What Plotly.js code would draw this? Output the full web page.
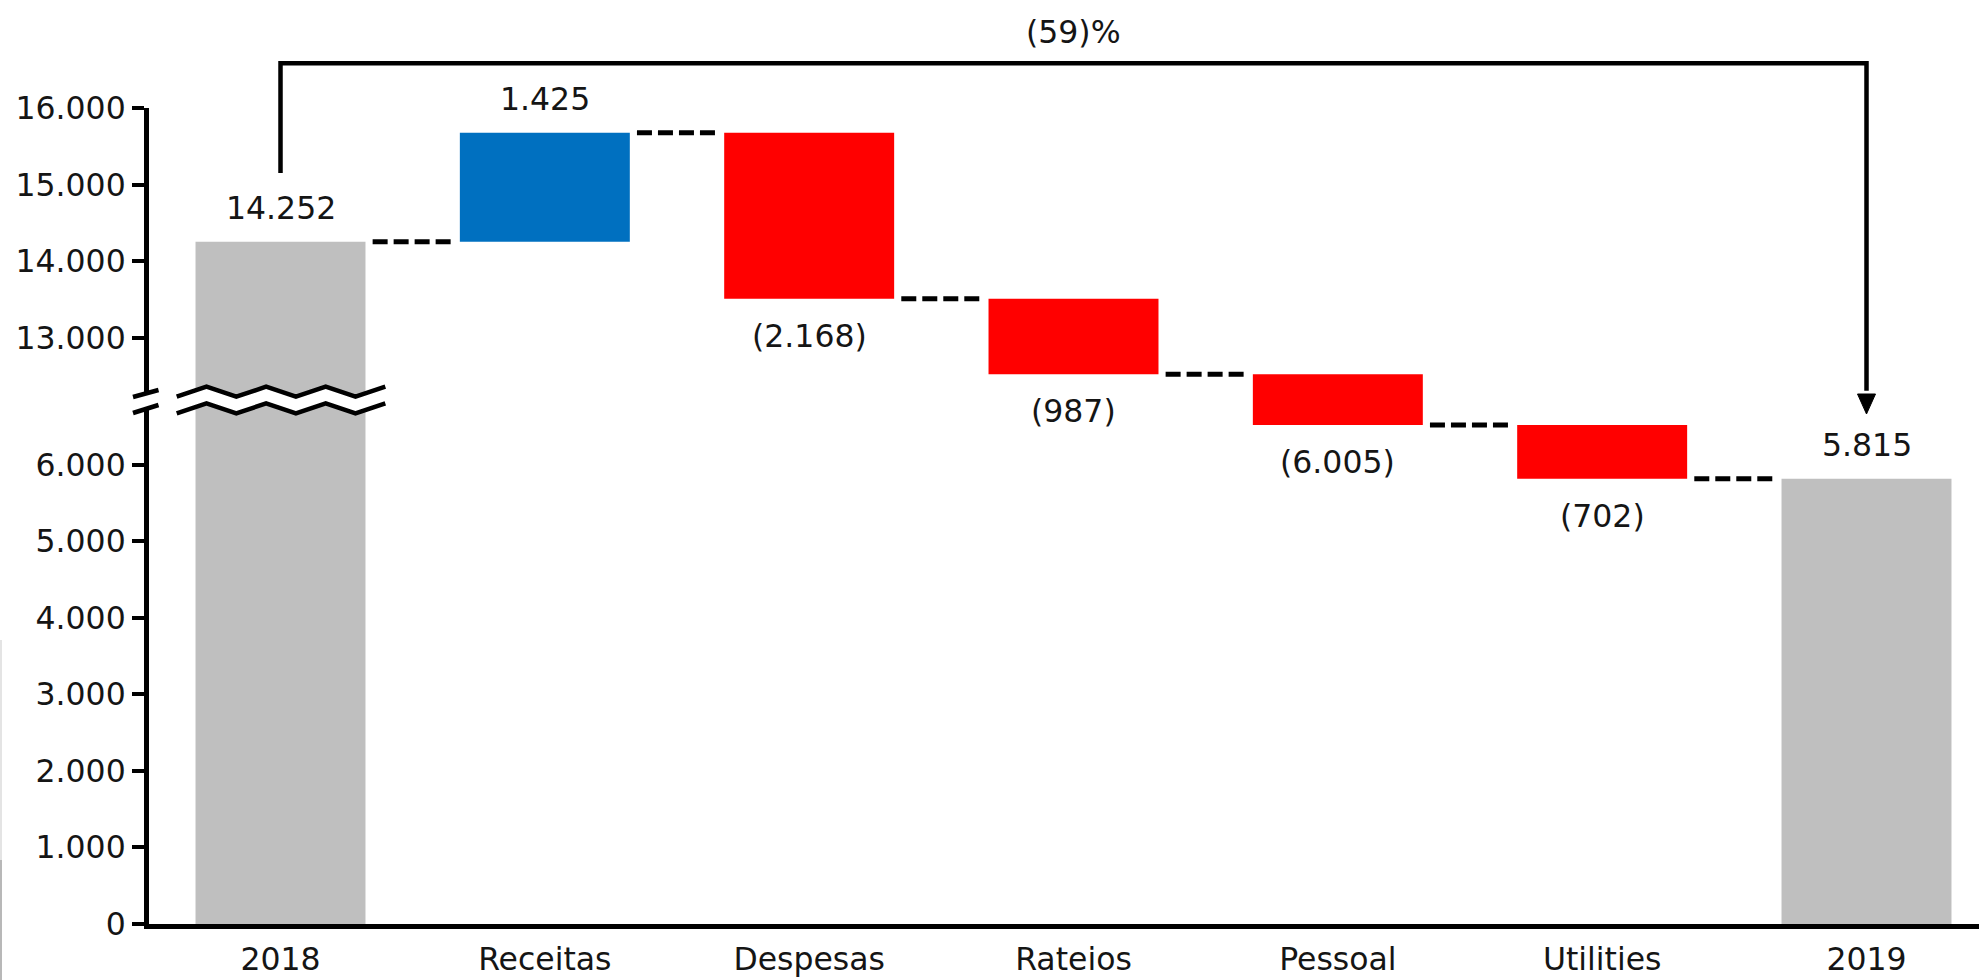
<!DOCTYPE html>
<html><head><meta charset="utf-8">
<script src="https://cdn.plot.ly/plotly-3.0.1.min.js"></script>
<style>html,body{margin:0;padding:0;background:#fff;overflow:hidden} #chart{width:1979px;height:980px;}</style>
</head><body><div id="chart"></div>
<script>
// ---------------- data ----------------
const categories = ['2018', 'Receitas', 'Despesas', 'Rateios', 'Pessoal', 'Utilities', '2019'];
const values = [14252, 1425, -2168, -987, -6005, -702, 5815];
const measures = ['total', 'relative', 'relative', 'relative', 'relative', 'relative', 'total'];
const tickValues = [0, 1000, 2000, 3000, 4000, 5000, 6000, 13000, 14000, 15000, 16000];
const tickLabels = ['0', '1.000', '2.000', '3.000', '4.000', '5.000', '6.000', '13.000', '14.000', '15.000', '16.000'];

// ---------------- style ----------------
const colorTotal = '#BFBFBF', colorUp = '#0070C0', colorDown = '#FF0000';
const FONT = '"DejaVu Sans", Verdana, sans-serif';
const FS = 31.5, TXT = '#151515';
const W = 1979, H = 980, ML = 149, MR = 0, MT = 108, MB = 56;
const PW = W - ML - MR, PH = H - MT - MB;
const XR = [-0.4975, 6.4256];
const YMAX = 16000;
const BAR_W = 0.643;

// broken axis: values above the break are shifted down
const BREAK_AT = 9000, BREAK_OFFSET = 5345;
const tr = v => (v > BREAK_AT ? v - BREAK_OFFSET : v);
const fmt = v => String(Math.abs(v)).replace(/\B(?=(\d{3})+(?!\d))/g, '.');

// ---------------- waterfall geometry ----------------
let run = 0;
const bases = [], heights = [], colors = [], ends = [], labels = [], above = [];
values.forEach((v, i) => {
  let lo, hi;
  if (measures[i] === 'total') { lo = 0; hi = v; run = v; colors.push(colorTotal); above.push(true); labels.push(fmt(v)); }
  else {
    const prev = run; run = prev + v;
    lo = Math.min(prev, run); hi = Math.max(prev, run);
    colors.push(v >= 0 ? colorUp : colorDown);
    above.push(v >= 0);
    labels.push(v >= 0 ? fmt(v) : '(' + fmt(v) + ')');
  }
  ends.push(run);
  bases.push(tr(lo));
  heights.push(tr(hi) - tr(lo));
});

const trace = {
  type: 'bar', x: categories, y: heights, base: bases, width: BAR_W,
  marker: {color: colors, line: {width: 0}}, hoverinfo: 'none', showlegend: false
};

// helpers for decoration in paper space
const catPaper = i => (i - XR[0]) / (XR[1] - XR[0]);
const pxX = px => (px - ML) / PW;
const pxY = py => (H - MB - py) / PH;

const shapes = [];
// connectors
const inset = 0.027;
for (let i = 0; i < categories.length - 1; i++) {
  shapes.push({type: 'line', xref: 'x', yref: 'y', x0: i + BAR_W / 2 + inset, x1: i + 1 - BAR_W / 2 - inset,
    y0: tr(ends[i]), y1: tr(ends[i]), line: {color: '#000', width: 5, dash: '15px,6px'}, layer: 'above'});
}

// axis break marks
const zz = (x0, yTop, yBot, n, dy) => {
  const pts = [];
  for (let k = 0; k <= n; k++) pts.push([x0 + k * 29.8, (k % 2 === 0 ? yBot : yTop) + dy]);
  return pts;
};
const upper = zz(176.7, 386.7, 396.7, 7, 0);
const lower = zz(176.7, 386.7, 396.7, 7, 16.7);
const P = p => pxX(p[0]).toFixed(5) + ',' + pxY(p[1]).toFixed(5);
let band = 'M ' + upper.map(P).join(' L ') + ' L ' + lower.slice().reverse().map(P).join(' L ') + ' Z';
shapes.push({type: 'path', xref: 'paper', yref: 'paper', path: band, fillcolor: '#fff', line: {width: 0}, layer: 'above'});
shapes.push({type: 'path', xref: 'paper', yref: 'paper', path: 'M ' + upper.map(P).join(' L '), line: {color: '#000', width: 4.5}, layer: 'above'});
shapes.push({type: 'path', xref: 'paper', yref: 'paper', path: 'M ' + lower.map(P).join(' L '), line: {color: '#000', width: 4.5}, layer: 'above'});
shapes.push({type: 'rect', xref: 'paper', yref: 'paper', x0: pxX(138), x1: pxX(156), y0: pxY(410), y1: pxY(392), fillcolor: '#fff', line: {width: 0}, layer: 'above'});
shapes.push({type: 'line', xref: 'paper', yref: 'paper', x0: pxX(133), y0: pxY(397), x1: pxX(158.5), y1: pxY(390), line: {color: '#000', width: 4.5}, layer: 'above'});
shapes.push({type: 'line', xref: 'paper', yref: 'paper', x0: pxX(133), y0: pxY(413), x1: pxX(158.5), y1: pxY(405), line: {color: '#000', width: 4.5}, layer: 'above'});

// bracket with arrow (first -> last)
const n = categories.length - 1;
const yBr = pxY(63.3), yStart = pxY(173), yTip = pxY(414), yHead = pxY(394);
const bx0 = catPaper(0), bx1 = catPaper(n);
shapes.push({type: 'path', xref: 'paper', yref: 'paper',
  path: `M ${bx0},${yStart} L ${bx0},${yBr} L ${bx1},${yBr} L ${bx1},${yHead + 0.004}`,
  line: {color: '#000', width: 4.5}, layer: 'above'});
const hw = 9 / PW;
shapes.push({type: 'path', xref: 'paper', yref: 'paper',
  path: `M ${bx1 - hw},${yHead} L ${bx1 + hw},${yHead} L ${bx1},${yTip} Z`,
  fillcolor: '#000', line: {color: '#000', width: 1}, layer: 'above'});

// faint edge line at far left (scan artefact)
shapes.push({type: 'line', xref: 'paper', yref: 'paper', x0: pxX(1), x1: pxX(1), y0: pxY(860), y1: pxY(640),
  line: {color: '#e4e4e4', width: 2}, layer: 'above'});
shapes.push({type: 'line', xref: 'paper', yref: 'paper', x0: pxX(1), x1: pxX(1), y0: pxY(980), y1: pxY(860),
  line: {color: '#b8b8b8', width: 2}, layer: 'above'});

// value labels (x given as category index so '2018'/'2019' are not read as numbers)
const annotations = categories.map((c, i) => ({
  x: i, y: above[i] ? bases[i] + heights[i] : bases[i], xref: 'x', yref: 'y',
  text: labels[i], showarrow: false, yanchor: 'middle', yshift: above[i] ? 34 : -37,
  font: {family: FONT, size: FS, color: TXT}
}));
const change = Math.round((values[n] / values[0] - 1) * 100);
annotations.push({x: (n) / 2, xref: 'x', y: pxY(31.7), yref: 'paper', yanchor: 'middle',
  text: change < 0 ? '(' + Math.abs(change) + ')%' : change + '%', showarrow: false,
  font: {family: FONT, size: FS, color: TXT}});

const layout = {
  width: W, height: H, margin: {l: ML, r: MR, t: MT, b: MB, pad: 0},
  paper_bgcolor: '#fff', plot_bgcolor: '#fff',
  font: {family: FONT, size: FS, color: TXT},
  xaxis: {type: 'category', range: XR, showline: true, linecolor: '#000', linewidth: 5,
    ticks: '', showgrid: false, zeroline: false, fixedrange: true, ticklabelstandoff: 3,
    tickfont: {family: FONT, size: FS, color: TXT}},
  yaxis: {range: [0, tr(YMAX)], showline: true, linecolor: '#000', linewidth: 5,
    tickvals: tickValues.map(tr), ticktext: tickLabels, ticks: 'outside', ticklen: 12, tickwidth: 4, tickcolor: '#000',
    showgrid: false, zeroline: false, fixedrange: true,
    tickfont: {family: FONT, size: FS, color: TXT}},
  bargap: 0.357, shapes: shapes, annotations: annotations, showlegend: false
};

Plotly.newPlot('chart', [trace], layout, {displayModeBar: false, staticPlot: true});
</script>
</body></html>
